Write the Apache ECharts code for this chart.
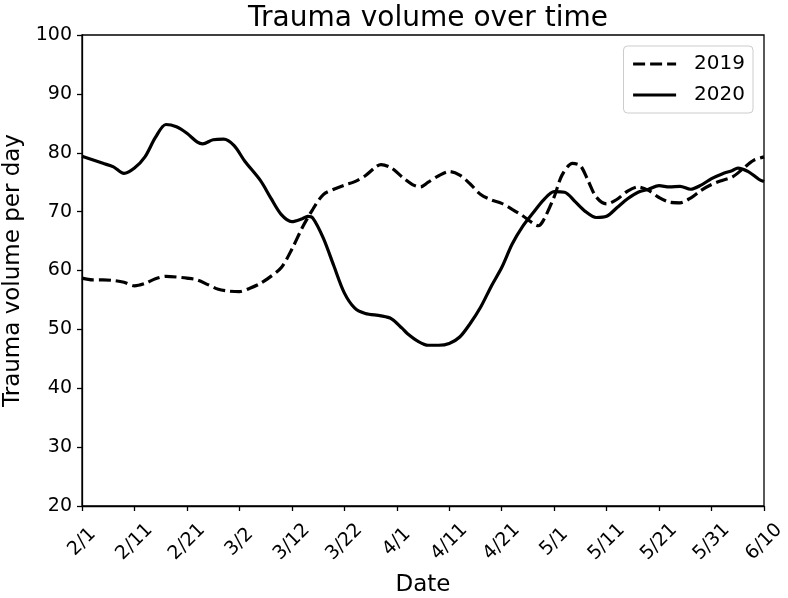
<!DOCTYPE html>
<html>
<head>
<meta charset="utf-8">
<script src="https://cdn.jsdelivr.net/npm/echarts@6/dist/echarts.min.js"></script>
<style>html,body{margin:0;padding:0;background:#fff}#c{width:788px;height:598px}</style>
</head>
<body>
<div id="c"></div>
<script>
const tickLabels = ['2/1','2/11','2/21','3/2','3/12','3/22','4/1','4/11','4/21','5/1','5/11','5/21','5/31','6/10'];
const days2019 = [0,2,4,6,8,10,12,14,16,18,20,22,24,26,28,30,32,34,36,38,40,42,44,46,48,50,52,54,56,57,59,61,63,64.5,66,68,70,72,74,76,78,80,82,84,86,87,88,90,91.5,93.5,95,96.5,98,100,102,104,106,108,110,112,114,116,118,120,122,124,126,128,130];
const values2019 = [58.7,58.4,58.4,58.3,58.0,57.4,57.8,58.6,59.0,58.9,58.7,58.4,57.6,56.8,56.5,56.4,57.0,57.8,59.0,60.5,63.6,67.3,70.4,72.9,73.8,74.5,75.1,76.1,77.6,78.0,77.4,75.9,74.6,74.2,75.0,76.1,76.8,76.2,74.7,72.9,72.0,71.4,70.4,69.3,68.0,67.6,68.6,72.5,76.2,78.2,77.8,75.2,72.5,71.3,72.1,73.5,74.2,73.6,72.4,71.6,71.5,72.3,73.6,74.6,75.3,75.9,77.3,78.7,79.3];
const days2020 = [0,2,4,6,8,10,12,14,16,18,20,22,23,25,27,29,31,34,36,38,40,42,43,44,46,48,50,52,54,57,59,61,62,64,66,68,70,72,74,76,78,80,82,84,86,88,90,92,94,96,98,100,102,104,106,108,110,112,114,116,118,120,122,124,125,127,129,130];
const values2020 = [79.4,78.8,78.2,77.6,76.5,77.4,79.3,82.6,84.8,84.4,83.3,81.8,81.5,82.2,82.3,81.2,78.6,75.3,72.3,69.5,68.3,68.8,69.2,68.9,65.5,60.8,56.2,53.6,52.7,52.3,51.8,50.2,49.3,48.0,47.3,47.3,47.6,48.7,51.0,53.8,57.3,60.5,64.5,67.5,69.8,72.0,73.4,73.3,71.7,70.0,69.0,69.2,70.7,72.2,73.3,73.8,74.4,74.2,74.3,73.8,74.5,75.6,76.4,77.0,77.4,76.8,75.5,75.1];

const font = 'DejaVu Sans';
const pairs = (d, v) => d.map((x, i) => [x, v[i]]);
const chart = echarts.init(document.getElementById('c'), null, {renderer: 'canvas'});
chart.setOption({
  animation: false,
  backgroundColor: '#fff',
  title: {
    text: 'Trauma volume over time',
    left: 423, textAlign: 'center', top: 0,
    textStyle: {fontFamily: font, fontSize: 28, fontWeight: 'normal', color: '#000'}
  },
  legend: {
    orient: 'vertical', right: 35, top: 46,
    padding: [8, 8, 8, 8],
    itemWidth: 43, itemHeight: 20, itemGap: 11,
    borderColor: '#cccccc', borderWidth: 1, borderRadius: 4,
    backgroundColor: 'rgba(255,255,255,0.8)',
    itemStyle: {opacity: 0},
    lineStyle: {width: 3.2},
    textStyle: {fontFamily: font, fontSize: 20, color: '#000', padding: [0, 0, 0, 13]},
    data: ['2019', '2020']
  },
  grid: {left: 82, right: 24, top: 35, bottom: 92, show: true, borderColor: '#000', borderWidth: 1.3,
         containLabel: false, outerBoundsMode: 'none'},
  xAxis: {
    type: 'value', min: 0, max: 130, interval: 10,
    name: 'Date', nameLocation: 'middle', nameGap: 68,
    nameTextStyle: {fontFamily: font, fontSize: 23, color: '#000'},
    axisLine: {show: true, lineStyle: {color: '#000', width: 1.3}},
    axisTick: {show: true, inside: false, length: 5, lineStyle: {color: '#000', width: 1.3}},
    splitLine: {show: false},
    axisLabel: {
      rotate: 45, margin: 36, align: 'center', verticalAlign: 'middle',
      fontFamily: font, fontSize: 19, color: '#000',
      formatter: v => tickLabels[Math.round(v / 10)] || ''
    }
  },
  yAxis: {
    type: 'value', min: 20, max: 100, interval: 10,
    name: 'Trauma volume per day', nameLocation: 'middle', nameGap: 51,
    nameTextStyle: {fontFamily: font, fontSize: 23, color: '#000'},
    axisLine: {show: true, lineStyle: {color: '#000', width: 1.3}},
    axisTick: {show: true, inside: false, length: 5, lineStyle: {color: '#000', width: 1.3}},
    splitLine: {show: false},
    axisLabel: {margin: 10, fontFamily: font, fontSize: 19, color: '#000'}
  },
  series: [
    {
      name: '2019', type: 'line', data: pairs(days2019, values2019),
      showSymbol: false, symbol: 'none', smooth: 0.3,
      lineStyle: {color: '#000', width: 3.2, type: [12, 5]},
      itemStyle: {color: '#000'}
    },
    {
      name: '2020', type: 'line', data: pairs(days2020, values2020),
      showSymbol: false, symbol: 'none', smooth: 0.3,
      lineStyle: {color: '#000', width: 3.2, type: 'solid'},
      itemStyle: {color: '#000'}
    }
  ]
});
</script>
</body>
</html>
